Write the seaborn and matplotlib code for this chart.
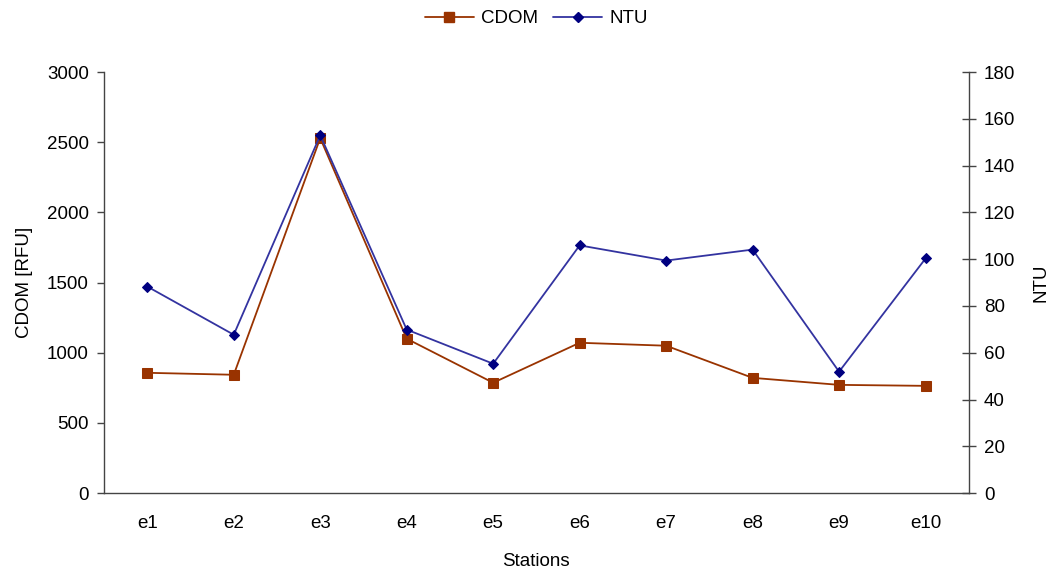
import numpy as np
import pandas as pd
import matplotlib
matplotlib.use("Agg")
import matplotlib.pyplot as plt
import seaborn as sns
from matplotlib.lines import Line2D

stations = ['e1', 'e2', 'e3', 'e4', 'e5', 'e6', 'e7', 'e8', 'e9', 'e10']
cdom = [857, 843, 2529, 1100, 786, 1071, 1050, 821, 771, 764]
ntu = [88.3, 67.7, 153.0, 69.9, 55.3, 105.9, 99.4, 104.1, 51.9, 100.3]

CDOM_COLOR = '#993300'
NTU_LINE = '#3333a0'
NTU_MARK = '#000080'
FS = 13.5

sns.set_style('white')
plt.rcParams['font.family'] = ['Liberation Sans', 'DejaVu Sans']
plt.rcParams['font.size'] = FS
plt.rcParams['text.color'] = 'black'
plt.rcParams['axes.labelcolor'] = 'black'
plt.rcParams['xtick.color'] = 'black'
plt.rcParams['ytick.color'] = 'black'

df = pd.DataFrame({'station': stations, 'CDOM': cdom, 'NTU': ntu})
df['pos'] = np.arange(len(stations))

fig = plt.figure(figsize=(10.52, 5.72), dpi=100)
ax = fig.add_axes([0.0989, 0.138, 0.822, 0.736])
ax2 = ax.twinx()

sns.lineplot(data=df, x='pos', y='CDOM', ax=ax, color=CDOM_COLOR, linewidth=1.3,
             marker='s', markersize=6.5, markeredgecolor=CDOM_COLOR,
             markerfacecolor=CDOM_COLOR)
sns.lineplot(data=df, x='pos', y='NTU', ax=ax2, color=NTU_LINE, linewidth=1.3,
             marker='D', markersize=5.5, markeredgecolor=NTU_MARK,
             markerfacecolor=NTU_MARK)

ax.set_xlim(-0.5, len(stations) - 0.5)
ax.set_ylim(0, 3000)
ax2.set_ylim(0, 180)
ax.set_yticks(np.arange(0, 3001, 500))
ax2.set_yticks(np.arange(0, 181, 20))

ax.set_xticks(df['pos'])
ax.set_xticklabels(stations)
ax.set_xticks(np.arange(-0.5, len(stations), 1), minor=True)
ax.tick_params(axis='x', which='major', length=0, pad=16, labelsize=FS)
ax.tick_params(axis='x', which='minor', length=5, width=1, color='#444444', direction='out')
ax.tick_params(axis='y', length=5, width=1, color='#444444', direction='out', labelsize=FS, pad=6)
ax2.tick_params(axis='y', length=10, width=1, color='#444444', direction='inout', labelsize=FS, pad=6)

for a in (ax, ax2):
    a.spines['top'].set_visible(False)
    for s in ('left', 'right', 'bottom'):
        a.spines[s].set_color('#444444')
        a.spines[s].set_linewidth(1)
ax.spines['right'].set_visible(False)
ax2.spines['left'].set_visible(False)
ax2.spines['bottom'].set_visible(False)

ax.set_xlabel('Stations', fontsize=FS, labelpad=15)
ax.set_ylabel('CDOM [RFU]', fontsize=FS, labelpad=10)
ax2.set_ylabel('NTU', fontsize=FS, labelpad=12)

handles = [
    Line2D([], [], color=CDOM_COLOR, linewidth=1.3, marker='s', markersize=6.5,
           markerfacecolor=CDOM_COLOR, markeredgecolor=CDOM_COLOR, label='CDOM'),
    Line2D([], [], color=NTU_LINE, linewidth=1.3, marker='D', markersize=5.5,
           markerfacecolor=NTU_MARK, markeredgecolor=NTU_MARK, label='NTU'),
]
fig.legend(handles=handles, loc='center', bbox_to_anchor=(0.51, 0.967), ncol=2,
           frameon=False, fontsize=FS, handlelength=2.6, columnspacing=0.8, handletextpad=0.4)

fig.savefig('out.png', dpi=100)
